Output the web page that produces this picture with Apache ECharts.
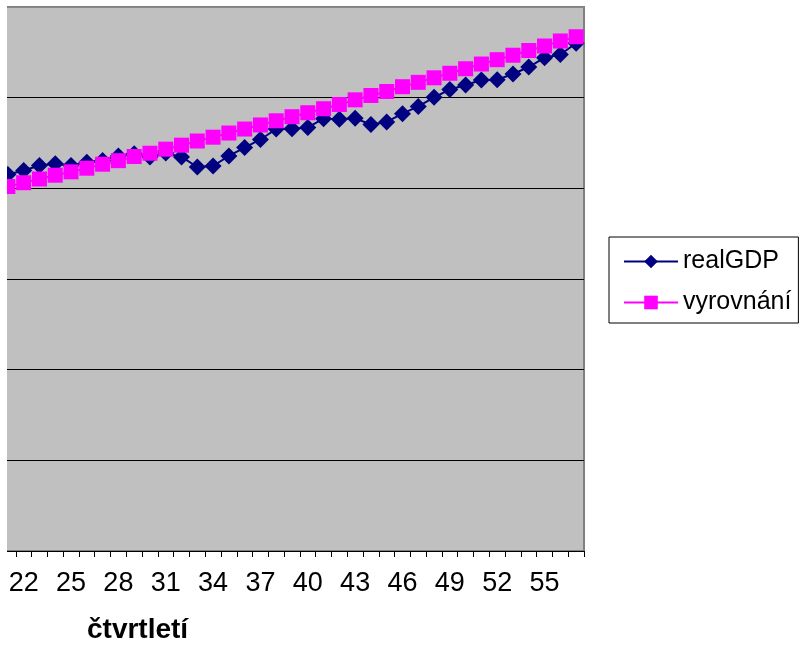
<!DOCTYPE html>
<html>
<head>
<meta charset="utf-8">
<script src="https://cdn.jsdelivr.net/npm/echarts@6/dist/echarts.min.js"></script>
<style>
  html, body { margin: 0; padding: 0; background: #fff; }
  #chart { width: 799px; height: 648px; }
</style>
</head>
<body>
<div id="chart"></div>
<script>
// quarters (categories) visible in the chart
const categories = ['21','22','23','24','25','26','27','28','29','30','31','32','33','34','35','36','37','38','39','40','41','42','43','44','45','46','47','48','49','50','51','52','53','54','55','56','57'];
// tick labels shown on the category axis
const tickLabels = ['22','25','28','31','34','37','40','43','46','49','52','55'];
// series values (arbitrary units)
const realGDP = [415.3,419.7,425.2,427.1,425.2,428.7,430.7,435.7,438.2,434.6,439.0,434.6,423.5,424.6,435.7,445.0,453.9,465.4,465.8,467.1,476.8,476.2,477.2,470.4,473.2,482.3,490.3,500.4,509.0,514.0,519.5,519.8,526.1,533.8,544.1,547.6,560.0];
const vyrovnani = [402.0,406.2,410.3,414.5,418.2,422.2,426.6,430.5,435.1,438.7,443.2,447.6,452.2,456.4,461.0,465.4,469.9,474.5,479.0,483.4,487.8,492.5,497.6,502.4,506.8,512.1,516.9,521.9,526.9,531.9,537.1,541.9,546.8,552.0,557.0,562.5,567.2];
const seriesNames = ['realGDP', 'vyrovnání'];
const axisTitle = 'čtvrtletí';

const FONT = 'Liberation Sans, Arial, sans-serif';
const chart = echarts.init(document.getElementById('chart'), null, { renderer: 'canvas' });
chart.setOption({
  animation: false,
  backgroundColor: '#fff',
  title: {
    text: axisTitle,
    left: 87, top: 616, padding: 0,
    textStyle: { fontFamily: FONT, fontSize: 28, fontWeight: 'bold', color: '#000' }
  },
  grid: {
    left: -1, right: 215, top: 7, bottom: 97,
    show: true, backgroundColor: '#C0C0C0', borderColor: '#808080', borderWidth: 2
  },
  legend: {
    orient: 'vertical',
    left: 609, top: 237,
    padding: [12, 7, 8, 14],
    borderColor: '#000', borderWidth: 1,
    itemWidth: 54, itemHeight: 17, itemGap: 16,
    textStyle: { fontFamily: FONT, fontSize: 25, color: '#000' },
    data: seriesNames
  },
  xAxis: {
    type: 'category',
    data: categories,
    boundaryGap: true,
    axisLine: { lineStyle: { color: '#000', width: 1 } },
    axisTick: { show: true, interval: 0, length: 6, lineStyle: { color: '#000' } },
    axisLabel: {
      interval: function (idx, val) { return tickLabels.indexOf(val) >= 0; },
      fontFamily: FONT, fontSize: 27, color: '#000', margin: 19
    },
    splitLine: { show: false }
  },
  yAxis: {
    type: 'value',
    min: 0, max: 600, interval: 100,
    axisLine: { show: false },
    axisTick: { show: false },
    axisLabel: { show: false },
    splitLine: { show: true, lineStyle: { color: ['#000','#000','#000','#000','#000','#000','#888'], width: 1 } }
  },
  series: [
    {
      name: seriesNames[0], type: 'line', data: realGDP,
      symbol: 'diamond', symbolSize: 17, showAllSymbol: true,
      lineStyle: { color: '#000080', width: 2 },
      itemStyle: { color: '#000080' }
    },
    {
      name: seriesNames[1], type: 'line', data: vyrovnani,
      symbol: 'rect', symbolSize: 15, showAllSymbol: true,
      lineStyle: { color: '#FF00FF', width: 2 },
      itemStyle: { color: '#FF00FF' }
    }
  ],
  graphic: [
    { type: 'rect', shape: { x: 0, y: 0, width: 7, height: 648 }, style: { fill: '#fff' }, z: 100 }
  ]
});
</script>
</body>
</html>
